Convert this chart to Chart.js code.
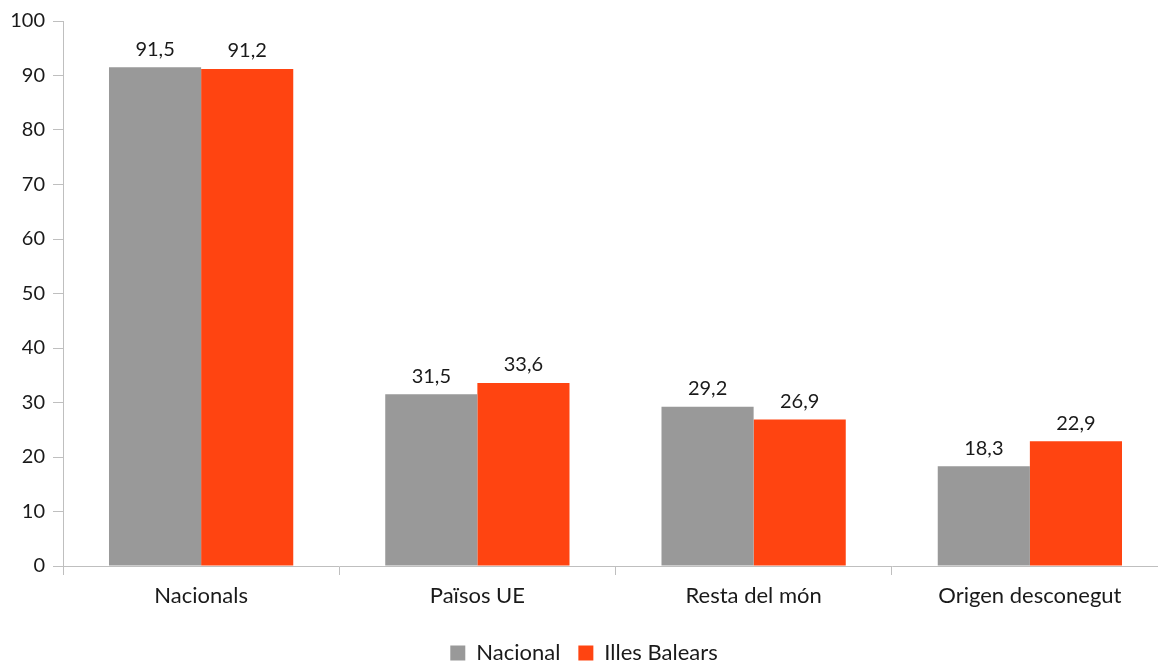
<!DOCTYPE html>
<html>
<head>
<meta charset="utf-8">
<script src="https://cdn.jsdelivr.net/npm/chart.js@4"></script>
<style>
  html, body { margin: 0; padding: 0; background: #fff; overflow: hidden; }
  #wrap { width: 1168px; height: 665px; }
</style>
</head>
<body>
<div id="wrap"><canvas id="chart"></canvas></div>
<script>
const categories = ['Nacionals', 'Països UE', 'Resta del món', 'Origen desconegut'];
const nacional = [91.5, 31.5, 29.2, 18.3];
const illesBalears = [91.2, 33.6, 26.9, 22.9];
const seriesNames = ['Nacional', 'Illes Balears'];

const FONT = 'Lato, "Open Sans", sans-serif';

// draw the value above every bar, with a decimal comma
const valueLabels = {
  id: 'valueLabels',
  afterDatasetsDraw(chart) {
    const ctx = chart.ctx;
    ctx.save();
    ctx.font = '20px ' + FONT;
    ctx.fillStyle = '#1a1a1a';
    ctx.textAlign = 'center';
    ctx.textBaseline = 'bottom';
    chart.data.datasets.forEach((ds, i) => {
      chart.getDatasetMeta(i).data.forEach((bar, j) => {
        ctx.fillText(ds.data[j].toFixed(1).replace('.', ','), bar.x, bar.y - 8);
      });
    });
    ctx.restore();
  }
};

new Chart(document.getElementById('chart'), {
  type: 'bar',
  data: {
    labels: categories,
    datasets: [
      { label: seriesNames[0], data: nacional, backgroundColor: '#999999' },
      { label: seriesNames[1], data: illesBalears, backgroundColor: '#ff4411' }
    ]
  },
  options: {
    responsive: true,
    maintainAspectRatio: false,
    animation: false,
    layout: { padding: { top: 21, left: 0, right: 0, bottom: -9 } },
    datasets: { bar: { categoryPercentage: 0.667, barPercentage: 1.0 } },
    plugins: {
      legend: {
        position: 'bottom',
        labels: {
          boxWidth: 15, boxHeight: 15, padding: 18,
          color: '#1a1a1a',
          font: { family: FONT, size: 22 }
        }
      },
      tooltip: { enabled: false }
    },
    scales: {
      x: {
        grid: { drawOnChartArea: false, tickLength: 9, color: '#bfbfbf' },
        border: { color: '#bfbfbf' },
        ticks: { color: '#1a1a1a', padding: 8, font: { family: FONT, size: 22 } },
        afterFit: s => { s.height = 58; }
      },
      y: {
        min: 0, max: 100,
        grid: { drawOnChartArea: false, tickLength: 10, color: '#bfbfbf' },
        border: { color: '#bfbfbf' },
        ticks: { stepSize: 10, color: '#1a1a1a', padding: 8, font: { family: FONT, size: 20 } },
        afterFit: s => { s.width = 63; }
      }
    }
  },
  plugins: [valueLabels]
});
</script>
</body>
</html>
